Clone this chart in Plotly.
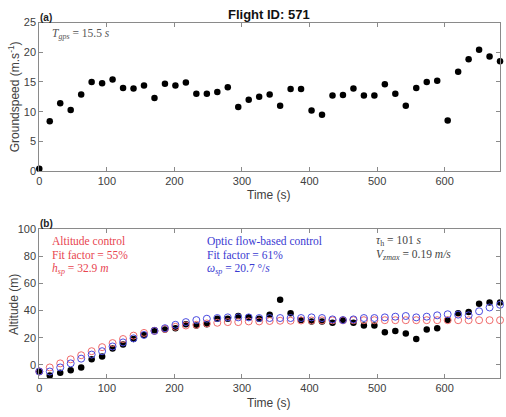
import plotly.graph_objects as go

# ---------------- data ----------------
T_GPS = 15.5
time_s = [round(T_GPS * i, 1) for i in range(45)]

groundspeed = [0.4, 8.4, 11.4, 10.3, 12.9, 15.0, 14.8, 15.4, 14.0, 13.9,
               14.4, 12.3, 14.7, 14.4, 14.9, 13.0, 13.0, 13.3, 14.1, 10.8,
               12.0, 12.5, 12.9, 11.0, 13.8, 13.8, 10.2, 9.5, 12.7, 12.8,
               13.9, 12.7, 12.7, 14.6, 13.0, 11.0, 14.0, 15.0, 15.2, 8.5,
               16.7, 18.8, 20.4, 19.3, 18.5]

altitude_meas = [-5, -8, -6, -4, -2, 4, 6, 12, 15, 19,
                 22, 25.5, 26, 27, 30, 29, 30, 34, 34, 36,
                 35, 34, 37, 48, 38, 33, 32, 32, 31, 33,
                 31, 29, 29, 24, 25, 23, 19, 26, 27, 33,
                 38, 39, 45, 46, 46]

altitude_ctrl = [-5, -2, 1, 4, 7, 10, 13, 16, 19, 21.5,
                 23.5, 25, 26.5, 28, 29, 29.5, 30.5, 31, 31.5, 31.5,
                 32, 32, 32.3, 32.5, 32.5, 32.7, 32.7, 32.8, 32.8, 32.8,
                 32.9, 32.9, 32.9, 32.9, 32.9, 32.9, 32.9, 32.9, 32.9, 32.9,
                 32.9, 32.9, 32.9, 32.9, 32.9]

optic_ctrl = [-5, -5, -2, 1, 4.5, 7.5, 10, 13.5, 16.5, 19.5,
              22, 25, 27, 29.5, 31.5, 33, 34, 34.5, 35, 35,
              35, 34.5, 34.5, 34.5, 34.5, 34.5, 35, 34.5, 33.5, 33,
              33.5, 34.5, 34.5, 35, 35.5, 36, 35, 35.5, 36.5, 37.3,
              37, 36.5, 39.5, 42.3, 44.3]

x_ticks = [0, 100, 200, 300, 400, 500, 600]
y1_ticks = [0, 5, 10, 15, 20, 25]
y2_ticks = [0, 20, 40, 60, 80, 100]

# ---------------- styles ----------------
W, H = 506, 417
RED = "#e8454f"
RED_C = "#f06a6a"
BLUE = "#3a3ad2"
BLUE_C = "#4a4ae0"
GRAY = "#444444"
AXC = "#8a8a8a"
TICKF = dict(family="Liberation Sans, Arial, sans-serif", size=11, color="#404040")
SERIF = "Liberation Serif, DejaVu Serif, serif"
SANS = "Liberation Sans, Arial, sans-serif"

def px_x(p):
    return p / W

def px_y(p):
    return 1 - p / H

fig = go.Figure()

fig.add_trace(go.Scatter(x=time_s, y=groundspeed, mode="markers", cliponaxis=False,
                         marker=dict(color="black", size=6.5),
                         xaxis="x", yaxis="y", showlegend=False))

fig.add_trace(go.Scatter(x=time_s, y=altitude_meas, mode="markers", cliponaxis=False,
                         marker=dict(color="black", size=6.5),
                         xaxis="x2", yaxis="y2", showlegend=False))
fig.add_trace(go.Scatter(x=time_s, y=altitude_ctrl, mode="markers", cliponaxis=False,
                         marker=dict(symbol="circle-open", color=RED_C, size=7,
                                     line=dict(width=1, color=RED_C)),
                         xaxis="x2", yaxis="y2", showlegend=False))
fig.add_trace(go.Scatter(x=time_s, y=optic_ctrl, mode="markers", cliponaxis=False,
                         marker=dict(symbol="circle-open", color=BLUE_C, size=7,
                                     line=dict(width=1, color=BLUE_C)),
                         xaxis="x2", yaxis="y2", showlegend=False))

xdom = [px_x(36.5), px_x(500)]
axis_common = dict(showgrid=False, zeroline=False, showline=True, linecolor=AXC,
                   linewidth=1, mirror="ticks", ticks="inside", ticklen=4,
                   tickcolor=AXC, tickfont=TICKF)

fig.update_layout(
    width=W, height=H,
    margin=dict(l=0, r=0, t=0, b=0),
    paper_bgcolor="white", plot_bgcolor="white",
    xaxis=dict(domain=xdom, range=[0, 682], tickvals=x_ticks, anchor="y",
               **axis_common),
    yaxis=dict(domain=[px_y(170), px_y(17)], range=[0, 25], tickvals=y1_ticks,
               anchor="x", **axis_common),
    xaxis2=dict(domain=xdom, range=[0, 682], tickvals=x_ticks, anchor="y2",
                **axis_common),
    yaxis2=dict(domain=[px_y(383.3), px_y(230)], range=[-10, 100],
                tickvals=y2_ticks, anchor="x2", **axis_common),
)

ann = []
def add(text, x, y, size=11.5, color=GRAY, family=SERIF, xanchor="left",
        yanchor="middle", angle=0):
    ann.append(dict(text=text, x=px_x(x), y=px_y(y), xref="paper", yref="paper",
                    showarrow=False, xanchor=xanchor, yanchor=yanchor,
                    textangle=angle, borderpad=0,
                    font=dict(family=family, size=size, color=color)))

add("<b>Flight ID: 571</b>", 268, 9, size=13, color="#111111", family=SANS, xanchor="center")
add("<b>(a)</b>", 36, 12, size=10, color="#222222", family=SANS)
add("<b>(b)</b>", 36, 224, size=10, color="#222222", family=SANS)
add("Time (s)", 268, 195, size=12, color="#404040", family=SANS, xanchor="center")
add("Time (s)", 268, 409, size=12, color="#404040", family=SANS, xanchor="center")
add("Groundspeed (m.s<sup>-1</sup>)", 11, 93, size=12, color="#404040", family=SANS,
    xanchor="center", angle=-90)
add("Altitude (m)", 11, 307, size=12, color="#404040", family=SANS,
    xanchor="center", angle=-90)

add("<i>T</i><sub><i>gps</i></sub> = 15.5 <i>s</i>", 48, 29, color="#555555")

add("Altitude control", 48, 242, color=RED)
add("Fit factor = 55%", 48, 256.5, color=RED)
add("<i>h</i><sub><i>sp</i></sub> = 32.9 <i>m</i>", 48, 271, color=RED)

add("Optic flow-based control", 204, 242, color=BLUE)
add("Fit factor = 61%", 204, 256.5, color=BLUE)
add("<i>ω</i><sub><i>sp</i></sub> = 20.7 °/<i>s</i>", 204, 271, color=BLUE)

add("<i>τ</i><sub>h</sub> = 101 <i>s</i>", 374, 242, color=GRAY)
add("<i>V</i><sub><i>zmax</i></sub> = 0.19 <i>m/s</i>", 374, 256.5, color=GRAY)

fig.update_layout(annotations=ann)

fig.write_html("out.html")
